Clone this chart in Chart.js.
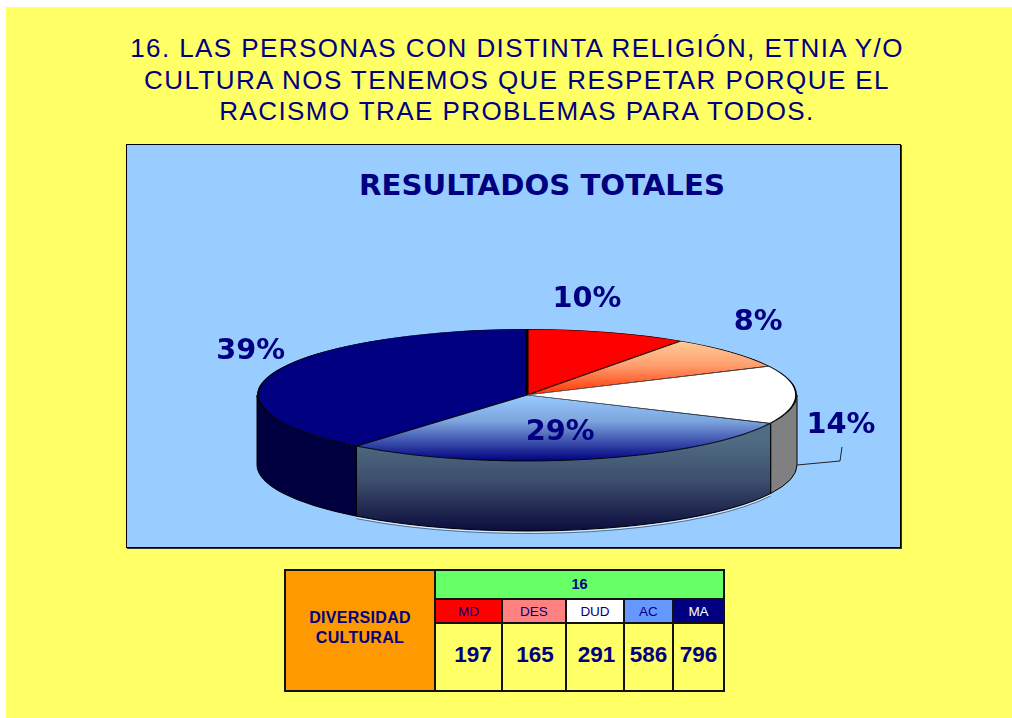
<!DOCTYPE html>
<html lang="es">
<head>
<meta charset="utf-8">
<title>Resultados totales</title>
<script src="https://cdn.jsdelivr.net/npm/chart.js@4"></script>
<style>
html,body{margin:0;padding:0;background:#fff;width:1012px;height:718px;overflow:hidden}
#sheet{position:absolute;left:6px;top:7px;width:1006px;height:711px;background:#FFFF66}
#q{position:absolute;left:0;top:33px;width:1034px;text-align:center;color:#000080;font:26px/31.6px "Liberation Sans",Arial,sans-serif;letter-spacing:1.42px}
#panel{position:absolute;left:126px;top:144px;width:773px;height:402px;background:#99CCFF;border:1px solid #000;box-shadow:1px 1px 0 #333}
#ct{position:absolute;left:126px;top:166px;width:832px;text-align:center;color:#000080;font:bold 29.2px/38px "DejaVu Sans",sans-serif}
canvas{position:absolute;left:0;top:0}
table{position:absolute;left:284px;top:569px;border-collapse:collapse;table-layout:fixed;width:439px;height:123px;font-family:"Liberation Sans",Arial,sans-serif;color:#000080}
td{border:2px solid #111;padding:0;text-align:center;overflow:hidden}
</style>
</head>
<body>
<div id="sheet"></div>
<div id="q">16. LAS PERSONAS CON DISTINTA RELIGIÓN, ETNIA Y/O<br>CULTURA NOS TENEMOS QUE RESPETAR PORQUE EL<br>RACISMO TRAE PROBLEMAS PARA TODOS.</div>
<div id="panel"></div>
<div id="ct">RESULTADOS TOTALES</div>
<table id="tb"></table>
<canvas id="c" width="1012" height="718"></canvas>
<script>
const categories = ["MD", "DES", "DUD", "AC", "MA"];
const counts = [197, 165, 291, 586, 796];
const headColors = ["#FF0000", "#FF8080", "#FFFFFF", "#6699FF", "#000080"];
const headText = ["#000080", "#000080", "#000080", "#000080", "#FFFFFF"];
const colWidths = [67, 64, 58, 49, 51];
const valueNudge = [9, 2, 3, 0, 0];

// table
const tb = document.getElementById("tb");
let h = '<colgroup><col style="width:150px">' + colWidths.map(w => `<col style="width:${w}px">`).join("") + '</colgroup>';
h += '<tr style="height:29px"><td rowspan="3" style="background:#FF9900;font:bold 16px/20px \'Liberation Sans\',Arial,sans-serif;letter-spacing:.3px;padding-top:2px;padding-bottom:8px">DIVERSIDAD<br>CULTURAL</td>' +
     `<td colspan="5" style="background:#66FF66;font-weight:bold;font-size:14.5px;padding-bottom:2px">16</td></tr>`;
h += '<tr style="height:24px">' + categories.map((c, i) => `<td style="background:${headColors[i]};color:${headText[i]};font-size:13.5px">${c}</td>`).join("") + '</tr>';
h += '<tr>' + counts.map((v, i) => `<td style="background:#FFFF66;font-weight:bold;font-size:22.5px;padding-bottom:4px;padding-left:${valueNudge[i]}px">${v}</td>`).join("") + '</tr>';
tb.innerHTML = h;

// pie tilt
const TILT = 66 / 270, DEPTH = 70;
const labelShift = [[-21, -33], [26, -30], [44, 31], [-26, -27], [-22, -21]];
const wallFill = (ctx, i, top, bottom) => {
  if (i === 2) return "#808080";
  if (i === 4) return "#000040";
  const g = ctx.createLinearGradient(0, top, 0, bottom);
  g.addColorStop(0, "#506C84");
  g.addColorStop(0.45, "#3C4E6C");
  g.addColorStop(1, "#0C0C3C");
  return g;
};

const tiltPlugin = {
  id: "tilt",
  beforeDatasetsDraw(chart) {
    const ctx = chart.ctx, arcs = chart.getDatasetMeta(0).data;
    const cx = arcs[0].x, cy = arcs[0].y, rx = arcs[0].outerRadius, ry = rx * TILT;
    const segs = [];
    arcs.forEach((a, i) => {
      const s = Math.max(a.startAngle, 0), e = Math.min(a.endAngle, Math.PI);
      if (e > s) segs.push([s, e, i]);
    });
    ctx.save();
    ctx.lineWidth = 1;
    segs.forEach(([s, e, i]) => {
      ctx.beginPath();
      ctx.ellipse(cx, cy, rx, ry, 0, s, e);
      ctx.ellipse(cx, cy + DEPTH, rx, ry, 0, e, s, true);
      ctx.closePath();
      ctx.fillStyle = wallFill(ctx, i, cy + 45, cy + ry + DEPTH);
      ctx.fill();
      ctx.strokeStyle = "#000";
      ctx.stroke();
    });
    // faint double edge under the lit wall
    ctx.beginPath();
    ctx.ellipse(cx, cy + DEPTH + 1.5, rx, ry, 0, arcs[3].startAngle, arcs[3].endAngle);
    ctx.strokeStyle = "#E8F2FF";
    ctx.stroke();
    ctx.beginPath();
    ctx.ellipse(cx, cy + DEPTH + 2.5, rx, ry, 0, arcs[3].startAngle, arcs[3].endAngle);
    ctx.strokeStyle = "#56708C";
    ctx.stroke();
    ctx.restore();
    ctx.save();
    ctx.translate(cx, cy);
    ctx.scale(1, TILT);
    ctx.translate(-cx, -cy);
  },
  afterDatasetsDraw(chart) {
    chart.ctx.restore();
    const ctx = chart.ctx, arcs = chart.getDatasetMeta(0).data;
    const total = counts.reduce((a, b) => a + b, 0);
    const cx = arcs[0].x, cy = arcs[0].y, rx = arcs[0].outerRadius, ry = rx * TILT;
    ctx.save();
    // leader line for the DUD slice
    const lx = cx + rx, ly = cy + DEPTH;
    ctx.strokeStyle = "#222";
    ctx.lineWidth = 1;
    ctx.beginPath();
    ctx.moveTo(lx, ly);
    ctx.lineTo(lx + 43, ly - 4);
    ctx.lineTo(lx + 45, ly - 18);
    ctx.stroke();
    ctx.fillStyle = "#000080";
    ctx.font = 'bold 28.8px "DejaVu Sans", sans-serif';
    ctx.textAlign = "center";
    ctx.textBaseline = "middle";
    arcs.forEach((a, i) => {
      const m = (a.startAngle + a.endAngle) / 2;
      const x = cx + rx * Math.cos(m) + labelShift[i][0];
      const y = cy + ry * Math.sin(m) + labelShift[i][1];
      ctx.fillText(Math.round(counts[i] / total * 100) + "%", x, y);
    });
    ctx.restore();
  }
};

const sliceFill = c => {
  const area = c.chart.chartArea;
  if (!area) return "#999";
  const cy = (area.top + area.bottom) / 2, R = (area.bottom - area.top) / 2;
  const ctx = c.chart.ctx;
  if (c.dataIndex === 1) {
    const g = ctx.createLinearGradient(0, cy - R * 0.83, 0, cy);
    g.addColorStop(0, "#FFCC99");
    g.addColorStop(0.45, "#FFA070");
    g.addColorStop(1, "#FF3300");
    return g;
  }
  if (c.dataIndex === 3) {
    const g = ctx.createLinearGradient(0, cy, 0, cy + R);
    g.addColorStop(0, "#99CCFF");
    g.addColorStop(0.4, "#7CA4DC");
    g.addColorStop(1, "#000080");
    return g;
  }
  return ["#FF0000", null, "#FFFFFF", null, "#000080"][c.dataIndex];
};

new Chart(document.getElementById("c"), {
  type: "pie",
  data: {
    labels: categories,
    datasets: [{
      data: counts,
      backgroundColor: sliceFill,
      borderColor: "#000",
      borderWidth: 1.5,
      borderAlign: "inner",
      clip: false
    }]
  },
  options: {
    responsive: false,
    animation: false,
    layout: { padding: { left: 257, right: 215, top: 125, bottom: 53 } },
    plugins: { legend: { display: false }, tooltip: { enabled: false }, title: { display: false } }
  },
  plugins: [tiltPlugin]
});
</script>
</body>
</html>
